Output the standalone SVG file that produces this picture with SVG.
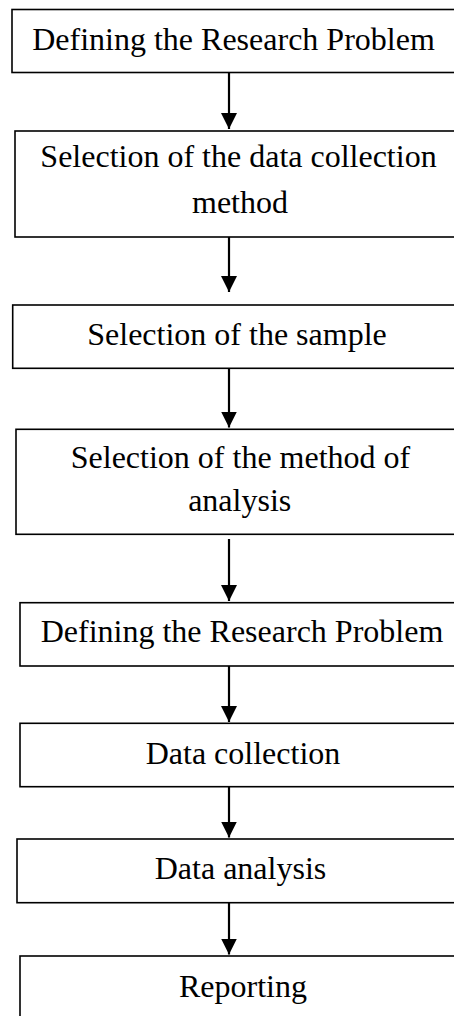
<svg xmlns="http://www.w3.org/2000/svg" width="454" height="1016" viewBox="0 0 454 1016">
<style>
.box{fill:#fff;stroke:#000;stroke-width:1.6}
.lbl{font-family:"Liberation Serif","Times New Roman",serif;font-size:32px;fill:#000;text-anchor:middle}
.conn{stroke:#000;stroke-width:2.2;fill:none}
</style>
<defs>
<marker id="ah" markerUnits="userSpaceOnUse" markerWidth="17" markerHeight="16" refX="16" refY="8" orient="auto">
<path d="M0,0 L16,8 L0,16 Z" fill="#000"/>
</marker>
</defs>
<rect width="454" height="1016" fill="#fff"/>
<g id="n1"><rect class="box" x="12" y="9.5" width="460" height="63"/><text class="lbl" x="233.5" y="50">Defining the Research Problem</text></g>
<g id="n2"><rect class="box" x="15" y="131" width="460" height="106"/><text class="lbl" x="238.5" y="167">Selection of the data collection</text><text class="lbl" x="240" y="213">method</text></g>
<g id="n3"><rect class="box" x="12.7" y="305" width="460" height="63.3"/><text class="lbl" x="237" y="345">Selection of the sample</text></g>
<g id="n4"><rect class="box" x="16" y="429.3" width="460" height="105"/><text class="lbl" x="240.5" y="468">Selection of the method of</text><text class="lbl" x="239.7" y="511">analysis</text></g>
<g id="n5"><rect class="box" x="20" y="602.7" width="460" height="63.3"/><text class="lbl" x="242" y="641.7">Defining the Research Problem</text></g>
<g id="n6"><rect class="box" x="20" y="723.3" width="460" height="63.4"/><text class="lbl" x="243" y="764">Data collection</text></g>
<g id="n7"><rect class="box" x="17" y="839" width="460" height="63.7"/><text class="lbl" x="240.5" y="879.3">Data analysis</text></g>
<g id="n8"><rect class="box" x="20" y="956" width="460" height="80"/><text class="lbl" x="243" y="996.7">Reporting</text></g>
<g id="connectors">
<line class="conn" x1="229" y1="73" x2="229" y2="129" marker-end="url(#ah)"/>
<line class="conn" x1="229" y1="237" x2="229" y2="292" marker-end="url(#ah)"/>
<line class="conn" x1="229" y1="368" x2="229" y2="427.5" marker-end="url(#ah)"/>
<line class="conn" x1="229" y1="539" x2="229" y2="601" marker-end="url(#ah)"/>
<line class="conn" x1="229" y1="666" x2="229" y2="722" marker-end="url(#ah)"/>
<line class="conn" x1="229" y1="787" x2="229" y2="837.5" marker-end="url(#ah)"/>
<line class="conn" x1="229" y1="903" x2="229" y2="954.5" marker-end="url(#ah)"/>
</g>
</svg>
